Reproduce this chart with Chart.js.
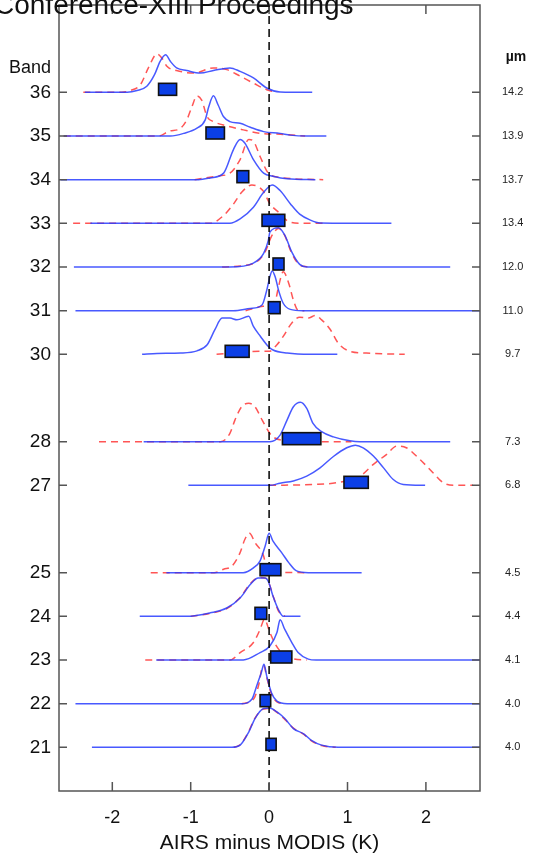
<!DOCTYPE html>
<html>
<head>
<meta charset="utf-8">
<script src="https://cdn.jsdelivr.net/npm/chart.js@4.4.0/dist/chart.umd.min.js"></script>
<style>
  html, body { margin: 0; padding: 0; background: #fff; }
  #wrap { position: relative; width: 543px; height: 856px; }
</style>
</head>
<body>
<div id="wrap"><canvas id="chart" width="543" height="856"></canvas></div>
<script>
// bands (y) and their wavelength labels
const bands = [36, 35, 34, 33, 32, 31, 30, 28, 27, 25, 24, 23, 22, 21];
const wavelengths = ['14.2', '13.9', '13.7', '13.4', '12.0', '11.0', '9.7', '7.3', '6.8', '4.5', '4.4', '4.1', '4.0', '4.0'];
const xTicks = [-2, -1, 0, 1, 2];

// boxes: low / high edge (K)
const boxLow  = [-1.41, -0.805, -0.41, -0.09, 0.05, -0.01, -0.56, 0.17, 0.955, -0.115, -0.18, 0.02, -0.115, -0.04];
const boxHigh = [-1.18, -0.57, -0.26, 0.20, 0.19, 0.14, -0.255, 0.66, 1.265, 0.15, -0.03, 0.29, 0.02, 0.09];

// histograms: [K, relative height], blue = solid, red = dashed
const blue36 = [[-2.35,0],[-1.81,0],[-1.685,0.04],[-1.56,0.14],[-1.46,0.41],[-1.39,0.71],[-1.32,0.86],[-1.26,0.71],[-1.18,0.56],[-1.05,0.5],[-0.88,0.44],[-0.71,0.5],[-0.5,0.56],[-0.37,0.48],[-0.2,0.33],[-0.03,0.1],[0.14,0.01],[0.55,0]];
const red36  = [[-2.37,0],[-1.88,0],[-1.77,0.04],[-1.64,0.18],[-1.54,0.56],[-1.43,0.88],[-1.37,0.79],[-1.3,0.59],[-1.18,0.5],[-0.96,0.44],[-0.71,0.56],[-0.54,0.52],[-0.37,0.37],[-0.2,0.21],[-0.03,0.06],[0.1,0]];
const blue35 = [[-2.62,0],[-1.26,0],[-1.09,0.06],[-0.92,0.18],[-0.815,0.37],[-0.77,0.67],[-0.71,0.92],[-0.65,0.71],[-0.58,0.44],[-0.5,0.33],[-0.37,0.29],[-0.24,0.2],[-0.07,0.1],[0.14,0.06],[0.27,0.02],[0.48,0],[0.73,0]];
const red35  = [[-2.62,0],[-1.41,0],[-1.26,0.12],[-1.155,0.15],[-1.05,0.37],[-0.985,0.67],[-0.92,0.92],[-0.86,0.82],[-0.79,0.44],[-0.71,0.33],[-0.54,0.23],[-0.33,0.14],[-0.11,0.06],[0.14,0.04],[0.46,0]];
const blue34 = [[-2.66,0],[-0.9,0],[-0.75,0.04],[-0.58,0.15],[-0.455,0.69],[-0.37,0.92],[-0.31,0.84],[-0.2,0.46],[-0.07,0.15],[0.05,0.08],[0.23,0.02],[0.59,0]];
const red34  = [[-0.95,0],[-0.67,0.08],[-0.5,0.15],[-0.37,0.46],[-0.26,0.92],[-0.2,0.88],[-0.115,0.53],[-0.01,0.15],[0.14,0.05],[0.31,0.02],[0.69,0]];
const blue33 = [[-2.28,0],[-0.5,0],[-0.37,0.1],[-0.2,0.37],[-0.07,0.71],[0.04,0.88],[0.14,0.75],[0.27,0.45],[0.39,0.21],[0.52,0.08],[0.65,0.01],[1.56,0]];
const red33  = [[-2.5,0],[-0.75,0],[-0.58,0.18],[-0.455,0.44],[-0.35,0.71],[-0.22,0.88],[-0.08,0.75],[0.01,0.45],[0.14,0.22],[0.23,0.06],[0.39,0],[0.69,0]];
const blue32 = [[-2.49,0],[-0.5,0],[-0.2,0.09],[-0.07,0.31],[-0.01,0.61],[0.01,0.8],[0.12,0.9],[0.2,0.73],[0.29,0.34],[0.39,0.06],[0.48,0],[2.31,0]];
const red32  = [[-0.6,0],[-0.2,0.08],[-0.05,0.35],[0.03,0.7],[0.12,0.88],[0.2,0.72],[0.28,0.35],[0.38,0.06],[0.5,0]];
const blue31 = [[-2.47,0],[-0.455,0],[-0.24,0.05],[-0.09,0.13],[-0.03,0.47],[0.01,0.78],[0.04,0.91],[0.08,0.76],[0.12,0.47],[0.18,0.17],[0.27,0.03],[0.43,0],[2.69,0]];
const red31  = [[-0.3,0],[-0.115,0.09],[0.08,0.24],[0.12,0.55],[0.18,0.89],[0.25,0.63],[0.31,0.24],[0.37,0.01],[0.45,0]];
const blue30 = [[-1.62,0],[-1.43,0.02],[-1.13,0.03],[-0.92,0.08],[-0.79,0.22],[-0.69,0.57],[-0.6,0.83],[-0.5,0.83],[-0.41,0.79],[-0.26,0.87],[-0.2,0.64],[-0.11,0.41],[-0.01,0.18],[0.05,0.1],[0.23,0.03],[0.52,0],[0.87,0]];
const red30  = [[-0.67,0],[-0.115,0.07],[0.0,0.07],[0.1,0.22],[0.18,0.41],[0.29,0.72],[0.39,0.85],[0.5,0.83],[0.59,0.89],[0.67,0.79],[0.78,0.57],[0.88,0.26],[1.03,0.07],[1.24,0.03],[1.5,0.01],[1.73,0]];
const blue28 = [[-1.6,0],[0.01,0],[0.14,0.15],[0.23,0.5],[0.31,0.8],[0.4,0.9],[0.48,0.76],[0.56,0.42],[0.67,0.23],[0.82,0.11],[1.03,0.02],[1.16,0],[2.31,0]];
const red28  = [[-2.17,0],[-0.62,0],[-0.5,0.19],[-0.435,0.5],[-0.35,0.8],[-0.26,0.88],[-0.18,0.8],[-0.09,0.5],[0.01,0.19],[0.05,0.11],[0.2,0.02],[0.4,0],[1.05,0]];
const blue27 = [[-1.03,0],[0.01,0],[0.14,0.05],[0.31,0.1],[0.48,0.21],[0.65,0.4],[0.82,0.66],[0.99,0.86],[1.1,0.92],[1.2,0.86],[1.33,0.67],[1.46,0.4],[1.58,0.14],[1.71,0.02],[1.99,0]];
const red27  = [[0.0,0],[0.56,0.02],[0.86,0.06],[1.16,0.21],[1.33,0.48],[1.5,0.71],[1.63,0.9],[1.75,0.86],[1.92,0.6],[2.09,0.29],[2.22,0.06],[2.35,0],[2.6,0]];
const blue25 = [[-1.31,0],[-0.33,0],[-0.2,0.11],[-0.115,0.27],[-0.05,0.61],[0.0,0.9],[0.05,0.72],[0.16,0.46],[0.25,0.23],[0.35,0.04],[0.5,0],[1.18,0]];
const red25  = [[-1.51,0],[-0.7,0],[-0.58,0.08],[-0.475,0.15],[-0.37,0.46],[-0.31,0.76],[-0.25,0.9],[-0.18,0.69],[-0.07,0.38],[-0.03,0.08],[0.1,0.01],[0.5,0]];
const blue24 = [[-1.65,0],[-1.05,0],[-0.75,0.08],[-0.54,0.19],[-0.37,0.42],[-0.24,0.73],[-0.14,0.88],[-0.05,0.88],[-0.01,0.8],[0.05,0.46],[0.12,0.15],[0.18,0],[0.4,0]];
const red24  = [[-1.0,0],[-0.75,0.07],[-0.54,0.18],[-0.37,0.43],[-0.24,0.75],[-0.13,0.89],[-0.04,0.87],[0.0,0.75],[0.06,0.42],[0.12,0.12],[0.2,0]];
const blue23 = [[-1.44,0],[-0.33,0],[-0.115,0.17],[0.01,0.32],[0.1,0.63],[0.14,0.92],[0.2,0.7],[0.29,0.4],[0.37,0.17],[0.5,0.02],[0.6,0],[2.69,0]];
const red23  = [[-1.58,0],[-0.5,0],[-0.37,0.17],[-0.2,0.4],[-0.115,0.7],[-0.06,0.93],[0.01,0.63],[0.08,0.36],[0.16,0.17],[0.31,0.03],[0.48,0]];
const blue22 = [[-2.47,0],[-0.35,0],[-0.22,0.1],[-0.16,0.4],[-0.1,0.71],[-0.065,0.9],[-0.03,0.63],[0.03,0.25],[0.1,0.06],[0.23,0],[2.69,0]];
const red22  = [[-0.35,0],[-0.2,0.1],[-0.13,0.45],[-0.09,0.82],[-0.065,0.86],[-0.03,0.6],[0.03,0.22],[0.1,0.04],[0.2,0]];
const blue21 = [[-2.26,0],[-0.475,0],[-0.37,0.05],[-0.26,0.35],[-0.18,0.66],[-0.07,0.89],[0.01,0.9],[0.1,0.81],[0.2,0.66],[0.31,0.43],[0.44,0.31],[0.54,0.16],[0.67,0.05],[0.88,0],[2.69,0]];
const red21  = [[-0.45,0],[-0.37,0.06],[-0.27,0.33],[-0.18,0.67],[-0.07,0.88],[0.02,0.89],[0.1,0.8],[0.2,0.64],[0.31,0.44],[0.44,0.3],[0.54,0.15],[0.67,0.04],[0.85,0]];

const blueCurves = [blue36, blue35, blue34, blue33, blue32, blue31, blue30, blue28, blue27, blue25, blue24, blue23, blue22, blue21];
const redCurves  = [red36, red35, red34, red33, red32, red31, red30, red28, red27, red25, red24, red23, red22, red21];

const FONT = '"Liberation Sans", Arial, Helvetica, sans-serif';
const BLUE = 'rgba(40, 60, 255, 0.85)';
const RED = 'rgba(255, 55, 55, 0.85)';

// curve points sit on top of their band baseline
const toPoints = (curve, band) => curve.map(([x, h]) => ({ x: x, y: band + h }));

const datasets = [];
// zero line (drawn on top)
datasets.push({
    data: [{ x: 0, y: 20 }, { x: 0, y: 38 }],
    borderColor: '#000', borderWidth: 1.5, borderDash: [8, 5],
    pointRadius: 0, showLine: true
});
bands.forEach((b, i) => {
    datasets.push({
        data: toPoints(blueCurves[i], b),
        borderColor: BLUE, borderWidth: 1.5,
        pointRadius: 0, showLine: true, cubicInterpolationMode: 'monotone'
    });
});
bands.forEach((b, i) => {
    datasets.push({
        data: toPoints(redCurves[i], b),
        borderColor: RED, borderWidth: 1.5, borderDash: [7, 5],
        pointRadius: 0, showLine: true, cubicInterpolationMode: 'monotone'
    });
});

// boxes + frame + extra texts
const decorPlugin = {
    id: 'decor',
    afterDatasetsDraw(chart) {
        const { ctx, scales: { x, y } } = chart;
        ctx.save();
        bands.forEach((b, i) => {
            const x0 = x.getPixelForValue(boxLow[i]);
            const x1 = x.getPixelForValue(boxHigh[i]);
            const yc = y.getPixelForValue(b) - 3;
            ctx.fillStyle = '#0b3fe6';
            ctx.strokeStyle = '#111';
            ctx.lineWidth = 1.6;
            ctx.fillRect(x0, yc - 6, x1 - x0, 12);
            ctx.strokeRect(x0, yc - 6, x1 - x0, 12);
        });
        ctx.restore();
    },
    afterDraw(chart) {
        const { ctx, chartArea: a, scales: { x, y } } = chart;
        ctx.save();
        ctx.strokeStyle = '#555';
        ctx.lineWidth = 1.5;
        ctx.strokeRect(a.left, a.top, a.right - a.left, a.bottom - a.top);
        ctx.beginPath();
        xTicks.forEach(v => {
            const px = x.getPixelForValue(v);
            ctx.moveTo(px, a.bottom); ctx.lineTo(px, a.bottom - 9);
            ctx.moveTo(px, a.top); ctx.lineTo(px, a.top + 9);
        });
        bands.forEach(b => {
            const py = y.getPixelForValue(b);
            ctx.moveTo(a.left, py); ctx.lineTo(a.left + 8, py);
            ctx.moveTo(a.right, py); ctx.lineTo(a.right - 8, py);
        });
        ctx.stroke();

        ctx.fillStyle = '#111';
        ctx.textBaseline = 'alphabetic';
        ctx.textAlign = 'left';
        ctx.font = '28px ' + FONT;
        ctx.fillText('Conference-XIII Proceedings', -6, 14);
        ctx.font = '18px ' + FONT;
        ctx.fillText('Band', 9, 73);
        ctx.font = 'bold 14px ' + FONT;
        ctx.textAlign = 'center';
        ctx.fillText('\u00b5m', 516, 61);
        ctx.restore();
    }
};

// vertical axes: fixed width, no extra top/bottom padding from labels
const fitVertical = w => s => { s.width = w; s.paddingTop = 0; s.paddingBottom = 0; };

new Chart(document.getElementById('chart'), {
    type: 'scatter',
    data: { datasets: datasets },
    plugins: [decorPlugin],
    options: {
        responsive: false,
        animation: false,
        layout: { padding: { top: 5, left: 0, right: 0, bottom: 0 } },
        plugins: { legend: { display: false }, tooltip: { enabled: false } },
        scales: {
            x: {
                type: 'linear', min: -2.68, max: 2.69,
                afterBuildTicks: s => { s.ticks = xTicks.map(v => ({ value: v })); },
                afterFit: s => { s.height = 65; s.paddingLeft = 0; s.paddingRight = 0; },
                grid: { display: false, drawTicks: false },
                border: { display: false },
                ticks: { padding: 16, color: '#111', font: { family: FONT, size: 18 } },
                title: { display: true, text: 'AIRS minus MODIS (K)', color: '#111',
                         font: { family: FONT, size: 21 }, padding: { top: 0, bottom: 0 } }
            },
            y: {
                type: 'linear', position: 'left', min: 20, max: 38,
                afterBuildTicks: s => { s.ticks = bands.map(v => ({ value: v })); },
                afterFit: fitVertical(59),
                grid: { display: false, drawTicks: false },
                border: { display: false },
                ticks: { padding: 8, color: '#111', font: { family: FONT, size: 19 },
                         callback: v => String(v) }
            },
            y2: {
                type: 'linear', position: 'right', min: 20, max: 38,
                afterBuildTicks: s => { s.ticks = bands.map(v => ({ value: v })); },
                afterFit: fitVertical(63),
                grid: { display: false, drawTicks: false },
                border: { display: false },
                ticks: { padding: 22, crossAlign: 'center', color: '#222', font: { family: FONT, size: 11 },
                         callback: v => wavelengths[bands.indexOf(v)] }
            }
        }
    }
});
</script>
</body>
</html>
